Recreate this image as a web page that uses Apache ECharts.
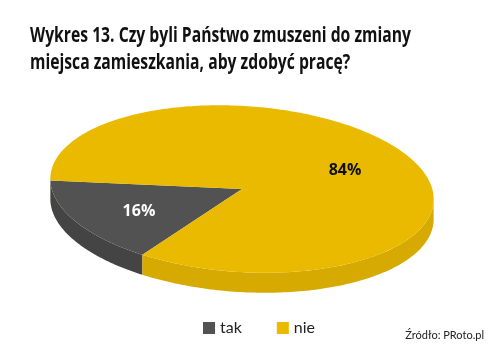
<!DOCTYPE html>
<html>
<head>
<meta charset="utf-8">
<script src="https://cdn.jsdelivr.net/npm/echarts@6/dist/echarts.min.js"></script>
<style>
  html, body { margin: 0; padding: 0; background: #fff; }
  #chart { width: 494px; height: 352px; }
</style>
</head>
<body>
<div id="chart"></div>
<script>
  const categories = ['tak', 'nie'];
  const values = [16, 84];
  const valueLabels = ['16%', '84%'];
  const titleLines = ['Wykres 13. Czy byli Państwo zmuszeni do zmiany', 'miejsca zamieszkania, aby zdobyć pracę?'];
  const topColors = ['#525252', '#E9BA00'];
  const sideColors = ['#444444', '#D6AA00'];
  const labelColors = ['#ffffff', '#111111'];

  // geometria "3D" elipsy
  const CX = 242, CY = 189, RX = 192, RY = 83;
  const TILT = 3.7 * Math.PI / 180;
  const THICK = 20;
  const START = 119.7;

  const total = values.reduce((a, b) => a + b, 0);

  function pt(tDeg, f, dy) {
    const t = tDeg * Math.PI / 180;
    const lx = RX * f * Math.cos(t), ly = RY * f * Math.sin(t);
    return [CX + lx * Math.cos(TILT) - ly * Math.sin(TILT),
            CY + lx * Math.sin(TILT) + ly * Math.cos(TILT) + (dy || 0)];
  }

  function arc(a, b, f, dy) {
    const pts = [];
    const n = Math.max(2, Math.ceil(Math.abs(b - a)));
    for (let k = 0; k <= n; k++) pts.push(pt(a + (b - a) * k / n, f, dy));
    return pts;
  }

  function makeRender(i) {
    return function (params, api) {
      let before = 0;
      for (let k = 0; k < i; k++) before += values[k];
      const t0 = START + before / total * 360;
      const t1 = t0 + api.value(0) / total * 360;
      const children = [];
      // boczna ściana: tylko przód (sin t > 0)
      [[0, 180], [360, 540]].forEach(function (r) {
        const a = Math.max(t0, r[0]), b = Math.min(t1, r[1]);
        if (b > a) {
          const upper = arc(a, b, 1, 0);
          const lower = arc(b, a, 1, THICK);
          children.push({
            type: 'polygon', z2: 1,
            shape: { points: upper.concat(lower) },
            style: { fill: sideColors[i] }
          });
        }
      });
      // górna powierzchnia
      children.push({
        type: 'polygon', z2: 10,
        shape: { points: [[CX, CY]].concat(arc(t0, t1, 1, 0)) },
        style: { fill: topColors[i] }
      });
      const mid = pt((t0 + t1) / 2, 0.62, 2);
      children.push({
        type: 'text', z2: 20,
        x: mid[0], y: mid[1],
        style: {
          text: valueLabels[i], fill: labelColors[i],
          font: 'bold 16px "Open Sans", sans-serif',
          align: 'center', verticalAlign: 'middle'
        }
      });
      return { type: 'group', children: children };
    };
  }

  // tytuł jest wąski (krój "condensed") - ściskamy go w poziomie
  const titleFont = 'bold 21px "Open Sans", sans-serif';
  const ctx = document.createElement('canvas').getContext('2d');
  ctx.font = titleFont;
  const titleScale = 381 / ctx.measureText(titleLines[0]).width;

  const chart = echarts.init(document.getElementById('chart'), null, { renderer: 'canvas' });
  chart.setOption({
    animation: false,
    graphic: [{
      type: 'text', x: 30, y: 23, scaleX: titleScale,
      style: {
        text: titleLines.join('\n'), font: titleFont, lineHeight: 27,
        fill: '#111', align: 'left', verticalAlign: 'top'
      }
    }],
    title: {
      text: 'Źródło: PRoto.pl',
      right: 10, top: 330, padding: 0,
      textStyle: { fontFamily: 'Lato, sans-serif', fontWeight: 'normal', fontSize: 11, color: '#222' }
    },
    legend: {
      data: categories,
      left: 203, top: 320, padding: 0,
      icon: 'rect', itemWidth: 12, itemHeight: 12, itemGap: 35,
      textStyle: { fontFamily: 'Lato, sans-serif', fontSize: 16, color: '#222' }
    },
    series: categories.map(function (name, i) {
      return {
        type: 'custom', name: name,
        coordinateSystem: 'none',
        itemStyle: { color: topColors[i] },
        renderItem: makeRender(i),
        data: [[values[i]]]
      };
    })
  });
</script>
</body>
</html>
